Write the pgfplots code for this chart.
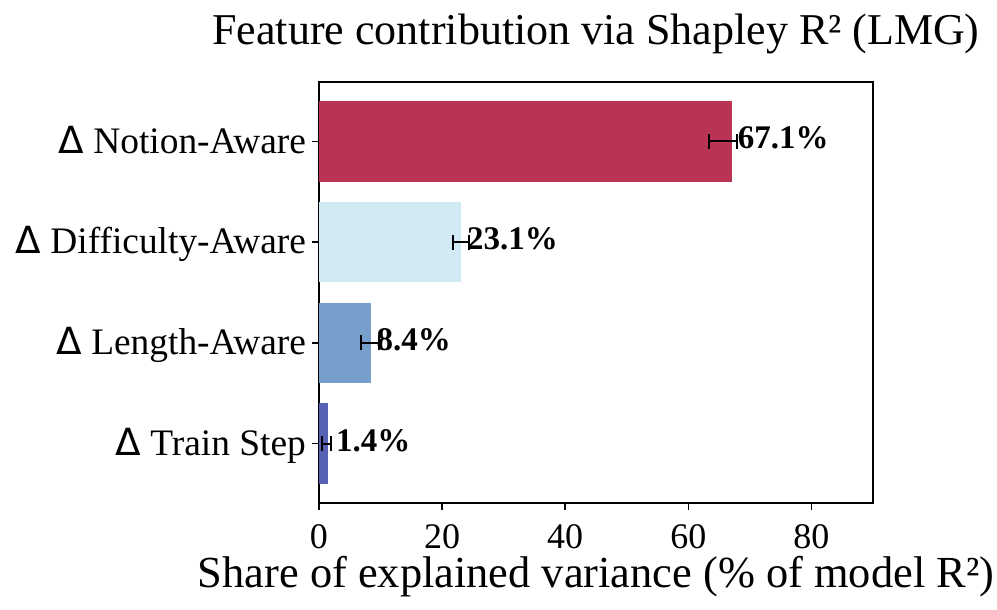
\documentclass[border=0pt]{standalone}
\usepackage{fontspec}
\setmainfont{Liberation Serif}
\newfontfamily\dejavu{DejaVu Sans}
\usepackage{pgfplots}
\pgfplotsset{compat=1.18}
\definecolor{cN}{RGB}{185,52,82}
\definecolor{cD}{RGB}{209,234,243}
\definecolor{cL}{RGB}{118,159,203}
\definecolor{cT}{RGB}{88,98,180}
\begin{document}
\begin{tikzpicture}
\begin{axis}[name=ax,
  scale only axis, width=277pt, height=210.5pt,
  xmin=0, xmax=90, ymin=-0.59, ymax=3.59,
  xtick={0,20,40,60,80},
  xticklabels={0,20,40,60,80},
  ytick={0,1,2,3},
  yticklabels={{{\dejavu Δ} Train Step},{{\dejavu Δ} Length-Aware},{{\dejavu Δ} Difficulty-Aware},{{\dejavu Δ} Notion-Aware}},
  xtick pos=lower, ytick pos=left,
  tick align=outside, major tick length=3.5pt,
  tick style={black, line width=0.8pt},
  axis line style={line width=0.8pt},
  /pgf/number format/assume math mode=true,
  xticklabel style={font=\fontsize{18}{20}\selectfont, anchor=base, inner sep=0pt, yshift=-19.3pt},
  yticklabel style={font=\fontsize{18.7}{22}\selectfont, anchor=base east, inner sep=0pt, xshift=-2.85pt, yshift=-5.9pt},
  title={Feature contribution via Shapley R² (LMG)},
  title style={at={(axis description cs:0.5,1)}, anchor=base, inner sep=0pt, yshift=12.5pt, font=\fontsize{22}{26}\selectfont},
  xlabel={Share of explained variance (\% of model R²)},
  xlabel style={at={(axis description cs:0.5,0)}, anchor=base, inner sep=0pt, yshift=-42.4pt, font=\fontsize{22.2}{26}\selectfont},
  bar width=0.8,
  every axis plot/.append style={
    error bars/error mark=|,
    error bars/error bar style={line width=1pt, black},
    error bars/error mark options={line width=1pt, black, mark size=3.75pt},
  },
]
\addplot[xbar, bar shift=0pt, fill=cT, draw=none,
  error bars/.cd, x dir=both, x explicit]
  coordinates {(1.4,0) += (0.55,0) -= (0.95,0)};
\addplot[xbar, bar shift=0pt, fill=cL, draw=none,
  error bars/.cd, x dir=both, x explicit]
  coordinates {(8.4,1) += (1.3,0) -= (1.65,0)};
\addplot[xbar, bar shift=0pt, fill=cD, draw=none,
  error bars/.cd, x dir=both, x explicit]
  coordinates {(23.1,2) += (1.2,0) -= (1.3,0)};
\addplot[xbar, bar shift=0pt, fill=cN, draw=none,
  error bars/.cd, x dir=both, x explicit]
  coordinates {(67.1,3) += (0.8,0) -= (3.7,0)};
\addplot[only marks, mark=none, nodes near coords, point meta=explicit symbolic,
  every node near coord/.append style={anchor=west, inner sep=0pt, yshift=1.6pt,
    font=\bfseries\fontsize{16.5}{19}\selectfont}]
  coordinates {(68.0,3) [67.1\%] (24.0,2) [23.1\%] (9.3,1) [8.4\%] (2.7,0) [1.4\%]};
\end{axis}
\pgfresetboundingbox
\path[use as bounding box] ([shift={(-159.5pt,-53.5pt)}]ax.south west) rectangle ([shift={(339pt,251.5pt)}]ax.south west);
\end{tikzpicture}
\end{document}
